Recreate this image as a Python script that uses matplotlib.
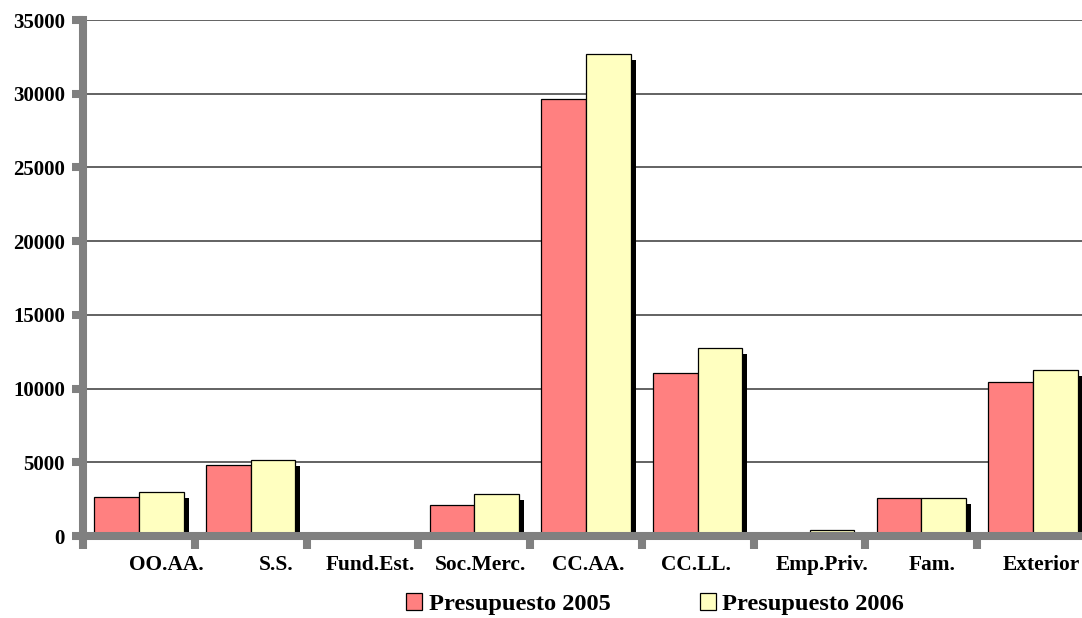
import matplotlib
matplotlib.use("Agg")
import matplotlib.pyplot as plt
import matplotlib.transforms as mtransforms
from matplotlib.patches import Patch
import numpy as np

categories = ["OO.AA.", "S.S.", "Fund.Est.", "Soc.Merc.", "CC.AA.", "CC.LL.",
              "Emp.Priv.", "Fam.", "Exterior"]
pres_2005 = [2670, 4800, 0, 2100, 29630, 11040, 0, 2560, 10430]
pres_2006 = [3010, 5180, 0, 2830, 32680, 12730, 400, 2560, 11280]
series_names = ["Presupuesto 2005", "Presupuesto 2006"]
y_ticks = [0, 5000, 10000, 15000, 20000, 25000, 30000, 35000]

# style
label_dx_px = [27, 26, 8, 6, 2, -2, 13, 11, 8]
c2005 = "#FF8080"
c2006 = "#FFFFC0"
axis_gray = "#808080"
font = "Liberation Serif"

plt.rcParams["font.family"] = [font, "DejaVu Serif"]
plt.rcParams["font.weight"] = "bold"

W, H = 1082, 618
fig = plt.figure(figsize=(W / 100, H / 100), dpi=100)
left_px, right_px, top_px, bot_px = 83, 1089, 20, 536
ax = fig.add_axes([left_px / W, (H - bot_px) / H, (right_px - left_px) / W, (bot_px - top_px) / H])
ax.set_xlim(0, len(categories))
ax.set_ylim(0, 35000)

x = np.arange(len(categories))
bw = 0.4
shadow_off = mtransforms.ScaledTranslation(5 / 100, -6 / 100, fig.dpi_scale_trans)
for vals, xs in ((pres_2005, x + 0.1), (pres_2006, x + 0.5)):
    ax.bar(xs, vals, width=bw, align="edge", color="black", linewidth=0,
           transform=ax.transData + shadow_off, zorder=2)
ax.bar(x + 0.1, pres_2005, width=bw, align="edge", color=c2005, edgecolor="black",
       linewidth=0.9, zorder=3)
ax.bar(x + 0.5, pres_2006, width=bw, align="edge", color=c2006, edgecolor="black",
       linewidth=0.9, zorder=3)

# grid
ax.set_yticks(y_ticks)
ax.set_yticklabels([str(v) for v in y_ticks], fontsize=15, fontweight="bold")
for v in y_ticks[1:]:
    ax.axhline(v, color="#484848", linewidth=1.2, zorder=1)

ax.set_xticks(np.arange(len(categories) + 1))
ax.set_xticklabels([])
ax.tick_params(axis="x", length=9.4, width=5.8, color=axis_gray, direction="out")
ax.tick_params(axis="y", length=7.9, width=5.8, color=axis_gray, direction="out", pad=5)

for s in ("top", "right"):
    ax.spines[s].set_visible(False)
for s in ("left", "bottom"):
    ax.spines[s].set_color(axis_gray)
    ax.spines[s].set_linewidth(5.8)
    ax.spines[s].set_capstyle("projecting")
    ax.spines[s].set_zorder(5)

# category labels
for i, lab in enumerate(categories):
    off = mtransforms.ScaledTranslation(label_dx_px[i] / 100, -34 / 100, fig.dpi_scale_trans)
    ax.text(i + 0.5, 0, lab, transform=ax.get_xaxis_transform() + off,
            ha="center", va="baseline", fontsize=15.4, fontweight="bold", clip_on=False)

handles = [Patch(facecolor=c2005, edgecolor="black", linewidth=0.9),
           Patch(facecolor=c2006, edgecolor="black", linewidth=0.9)]
fig.legend(handles, series_names, loc="center", bbox_to_anchor=(655 / W, 1 - 604 / H),
           ncol=2, frameon=False, prop={"family": font, "weight": "bold", "size": 17.6},
           handlelength=0.68, handleheight=0.7, handletextpad=0.25, columnspacing=3.65,
           borderpad=0, borderaxespad=0)

fig.savefig("out.png", dpi=100)
